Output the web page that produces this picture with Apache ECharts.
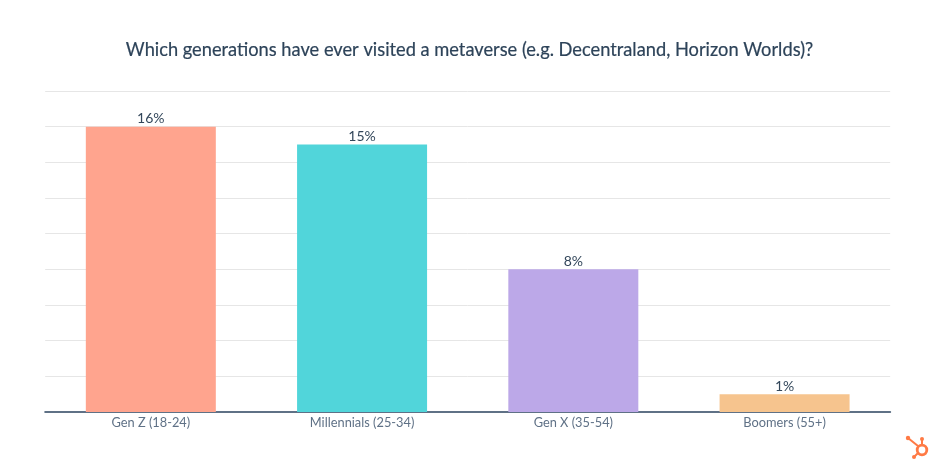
<!DOCTYPE html>
<html>
<head>
<meta charset="utf-8">
<style>html,body{margin:0;padding:0;background:#fff}#c{width:936px;height:471px}</style>
<script src="https://cdn.jsdelivr.net/npm/echarts@6/dist/echarts.min.js"></script>
</head>
<body>
<div id="c"></div>
<script>
const titleText = 'Which generations have ever visited a metaverse (e.g. Decentraland, Horizon Worlds)?';
const categories = ['Gen Z (18-24)', 'Millennials (25-34)', 'Gen X (35-54)', 'Boomers (55+)'];
const values = [16, 15, 8, 1];
const barColors = ['#ffa48e', '#51d5da', '#bca8e8', '#f6c48e'];
const FONT = 'Lato, "Open Sans", sans-serif';
const LOGO = '#ff7a45';
const chart = echarts.init(document.getElementById('c'), null, {renderer: 'canvas'});
chart.setOption({
  animation: false,
  backgroundColor: '#fff',
  title: {
    text: titleText, left: 464.5, top: 36, textAlign: 'center',
    textStyle: {fontFamily: FONT, fontSize: 18.25, fontWeight: 400, color: '#2d4359',
      textBorderColor: '#2d4359', textBorderWidth: 0.2}
  },
  grid: {left: 45.2, right: 45.8, top: 91, bottom: 59},
  xAxis: {
    type: 'category', data: categories,
    axisTick: {show: false},
    axisLine: {lineStyle: {color: '#5f7186', width: 2}},
    axisLabel: {fontFamily: FONT, fontSize: 12.8, color: '#5f7186', margin: 4}
  },
  yAxis: {
    type: 'value', min: 0, max: 18, interval: 2,
    axisLine: {show: false}, axisTick: {show: false}, axisLabel: {show: false},
    splitLine: {lineStyle: {color: '#e6e6e6', width: 1}}
  },
  series: [{
    type: 'bar', barWidth: 130,
    data: values.map((v, i) => ({value: v, itemStyle: {color: barColors[i]}})),
    label: {show: true, position: 'top', distance: 1, formatter: '{c}%',
      fontFamily: FONT, fontSize: 14, color: '#33475b'}
  }],
  graphic: [
    {type: 'line', silent: true, shape: {x1: 908, y1: 438, x2: 918, y2: 446}, style: {stroke: LOGO, lineWidth: 2}},
    {type: 'circle', silent: true, shape: {cx: 908, cy: 438, r: 2.2}, style: {fill: LOGO}},
    {type: 'line', silent: true, shape: {x1: 922, y1: 439, x2: 922, y2: 445}, style: {stroke: LOGO, lineWidth: 2}},
    {type: 'circle', silent: true, shape: {cx: 922, cy: 439, r: 2}, style: {fill: LOGO}},
    {type: 'line', silent: true, shape: {x1: 914, y1: 457, x2: 918, y2: 453}, style: {stroke: LOGO, lineWidth: 2}},
    {type: 'circle', silent: true, shape: {cx: 914, cy: 457, r: 2}, style: {fill: LOGO}},
    {type: 'circle', silent: true, shape: {cx: 922, cy: 450, r: 4.8}, style: {fill: 'none', stroke: LOGO, lineWidth: 2.8}}
  ]
});
</script>
</body>
</html>
